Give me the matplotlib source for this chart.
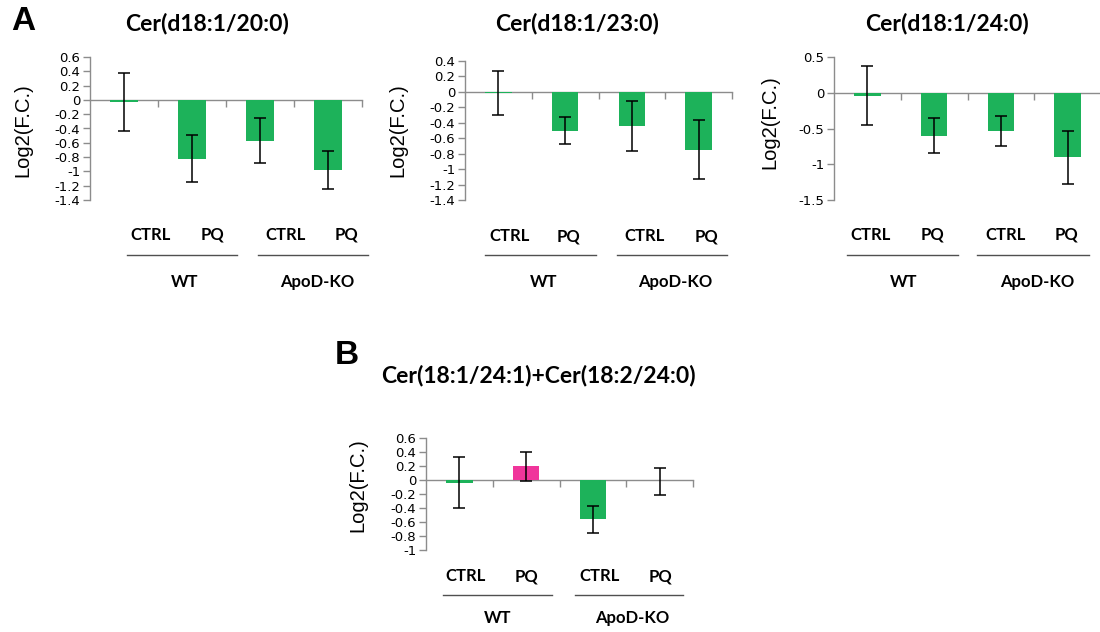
import matplotlib
matplotlib.use("Agg")
import matplotlib.pyplot as plt

plt.rcParams["axes.unicode_minus"] = False

# ---- data -------------------------------------------------------------
conditions = ["CTRL", "PQ", "CTRL", "PQ"]
genotypes = ["WT", "ApoD-KO"]

title_20_0 = "Cer(d18:1/20:0)"
means_20_0 = [-0.03, -0.82, -0.57, -0.98]
errs_20_0 = [0.40, 0.33, 0.31, 0.27]

title_23_0 = "Cer(d18:1/23:0)"
means_23_0 = [-0.015, -0.50, -0.445, -0.75]
errs_23_0 = [0.285, 0.175, 0.325, 0.38]

title_24_0 = "Cer(d18:1/24:0)"
means_24_0 = [-0.04, -0.60, -0.54, -0.90]
errs_24_0 = [0.41, 0.24, 0.21, 0.37]

title_24_1 = "Cer(18:1/24:1)+Cer(18:2/24:0)"
means_24_1 = [-0.04, 0.195, -0.56, -0.025]
errs_24_1 = [0.365, 0.21, 0.195, 0.19]

GREEN = "#1db25a"
PINK = "#f0359b"
colors_a = [GREEN, GREEN, GREEN, GREEN]
colors_b = [GREEN, PINK, GREEN, "none"]

# ---- figure -----------------------------------------------------------
W, H = 1100, 632
fig = plt.figure(figsize=(W / 100, H / 100), dpi=100)
fig.patch.set_facecolor("white")

AXIS_GREY = "#8c8c8c"
BOLD_FONT = "Lato"


def px(x, y):
    """Pixel position (origin top-left) -> figure fraction."""
    return x / W, 1 - y / H


def panel(left, right, top, bottom, ylim, yticks, means, errs, colors,
          title, title_xy, ylabel_xy, cond_x, cond_y, line_spans, line_y,
          geno_x, geno_y):
    x0, y0 = px(left, bottom)
    x1, y1 = px(right, top)
    ax = fig.add_axes([x0, y0, x1 - x0, y1 - y0])
    ax.set_xlim(0, 4)
    ax.set_ylim(*ylim)
    ax.patch.set_alpha(0)

    centers = [i + 0.5 for i in range(len(means))]
    ax.bar(centers, means, width=0.4, color=colors, zorder=3, linewidth=0)
    ax.errorbar(centers, means, yerr=errs, fmt="none", ecolor="black",
                elinewidth=1.1, capsize=4, capthick=1.1, zorder=4)

    for s in ("top", "right"):
        ax.spines[s].set_visible(False)
    ax.spines["bottom"].set_position(("data", 0))
    for s in ("bottom", "left"):
        ax.spines[s].set_color(AXIS_GREY)
        ax.spines[s].set_linewidth(1.0)
    ax.spines["bottom"].set_zorder(2)

    ax.set_xticks([1, 2, 3, 4])
    ax.set_xticklabels([])
    ax.tick_params(axis="x", direction="out", length=5, color=AXIS_GREY,
                   width=1.0)
    ax.set_yticks(yticks)
    ax.set_yticklabels([("%g" % t) for t in yticks])
    ax.tick_params(axis="y", direction="out", length=5, color=AXIS_GREY,
                   width=1.0, labelsize=9.5, pad=2)
    for lab in ax.get_yticklabels():
        lab.set_family("DejaVu Sans")

    tx, ty = px(*title_xy)
    fig.text(tx, ty, title, ha="center", va="center", fontsize=16.5,
             fontweight="bold", family=BOLD_FONT)
    lx, ly = px(*ylabel_xy)
    fig.text(lx, ly, "Log2(F.C.)", ha="center", va="center", rotation=90,
             fontsize=14.5, family="Liberation Sans")

    for name, cx in zip(conditions, cond_x):
        fx, fy = px(cx, cond_y)
        fig.text(fx, fy, name, ha="center", va="center", fontsize=12,
                 fontweight="bold", family=BOLD_FONT)
    for (sx, ex) in line_spans:
        a, ly2 = px(sx, line_y)
        b, _ = px(ex, line_y)
        fig.add_artist(plt.Line2D([a, b], [ly2, ly2], color="#505050",
                                  lw=1.0, transform=fig.transFigure))
    for name, gx in zip(genotypes, geno_x):
        fx, fy = px(gx, geno_y)
        fig.text(fx, fy, name, ha="center", va="center", fontsize=12,
                 fontweight="bold", family=BOLD_FONT)
    return ax


yt_a1 = [0.6, 0.4, 0.2, 0, -0.2, -0.4, -0.6, -0.8, -1, -1.2, -1.4]
yt_a2 = [0.4, 0.2, 0, -0.2, -0.4, -0.6, -0.8, -1, -1.2, -1.4]
yt_a3 = [0.5, 0, -0.5, -1, -1.5]
yt_b = [0.6, 0.4, 0.2, 0, -0.2, -0.4, -0.6, -0.8, -1]

panel(90, 362, 57, 200, (-1.4, 0.6), yt_a1, means_20_0, errs_20_0, colors_a,
      title_20_0, (207, 24), (23, 130), [151, 213, 286, 347], 235,
      [(127, 237), (258, 368)], 255, [185, 317], 282)

panel(465, 732, 61, 200, (-1.4, 0.4), yt_a2, means_23_0, errs_23_0, colors_a,
      title_23_0, (577, 24), (398, 130), [510, 569, 645, 707], 236,
      [(485, 596), (617, 727)], 255, [544, 675], 282)

panel(834, 1101, 57, 200, (-1.5, 0.5), yt_a3, means_24_0, errs_24_0,
      colors_a, title_24_0, (947, 24), (770, 122), [871, 933, 1006, 1067],
      235, [(847, 958), (977, 1089)], 255, [904, 1037], 282)

panel(426, 693, 438, 550, (-1.0, 0.6), yt_b, means_24_1, errs_24_1, colors_b,
      title_24_1, (538, 376), (358, 485), [466, 527, 600, 661], 576,
      [(443, 552), (575, 683)], 595, [498, 632], 618)

ax_ = px(23, 22)
fig.text(ax_[0], ax_[1], "A", ha="center", va="center", fontsize=24,
         fontweight="bold", family="Liberation Sans")
bx_ = px(347, 355)
fig.text(bx_[0], bx_[1], "B", ha="center", va="center", fontsize=24,
         fontweight="bold", family="Liberation Sans")

fig.savefig("out.png", dpi=100, facecolor="white")
